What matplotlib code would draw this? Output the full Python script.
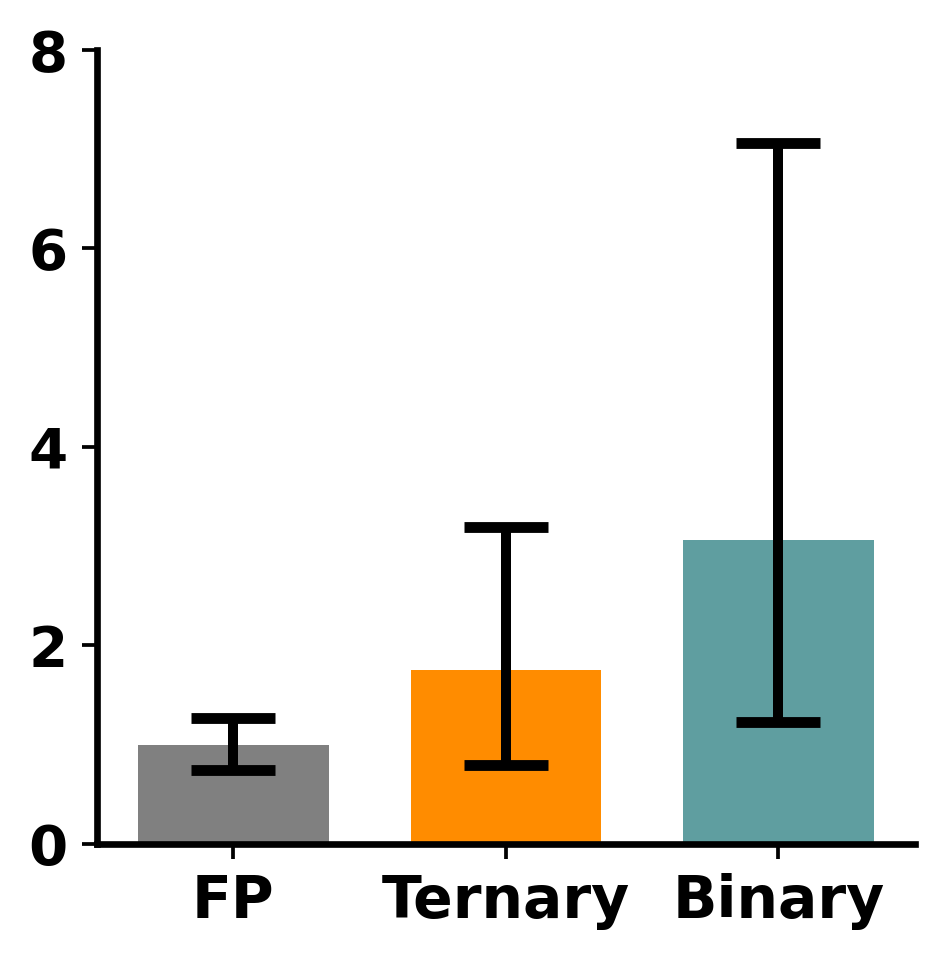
import numpy as np
import matplotlib.pyplot as plt

# data
labels = ['FP', 'Ternary', 'Binary']
means = [1.0, 1.75, 3.06]
err_low = [0.74, 0.79, 1.23]
err_high = [1.27, 3.19, 7.06]
colors = ['grey', 'darkorange', 'cadetblue']

fig = plt.figure(figsize=(943 / 300, 961 / 300), dpi=300)
ax = fig.add_axes([0.103, 0.122, 0.867, 0.826])

x = np.arange(len(labels))
ax.bar(x, means, width=0.7, color=colors)
yerr = [np.array(means) - np.array(err_low), np.array(err_high) - np.array(means)]
ax.errorbar(x, means, yerr=yerr, fmt='none', ecolor='black',
            elinewidth=2.4, capsize=10, capthick=2.6)

ax.set_xlim(-0.5, 2.5)
ax.set_ylim(0, 8)
ax.set_yticks([0, 2, 4, 6, 8])
ax.set_xticks(x)
ax.set_xticklabels(labels)

for s in ['top', 'right']:
    ax.spines[s].set_visible(False)
for s in ['left', 'bottom']:
    ax.spines[s].set_linewidth(1.6)

ax.tick_params(width=0.9, length=3.5)
ax.tick_params(axis='x', labelsize=14)
ax.tick_params(axis='y', labelsize=13.5)
for lab in ax.get_xticklabels() + ax.get_yticklabels():
    lab.set_fontweight('bold')

fig.savefig('out.png', dpi=300)
